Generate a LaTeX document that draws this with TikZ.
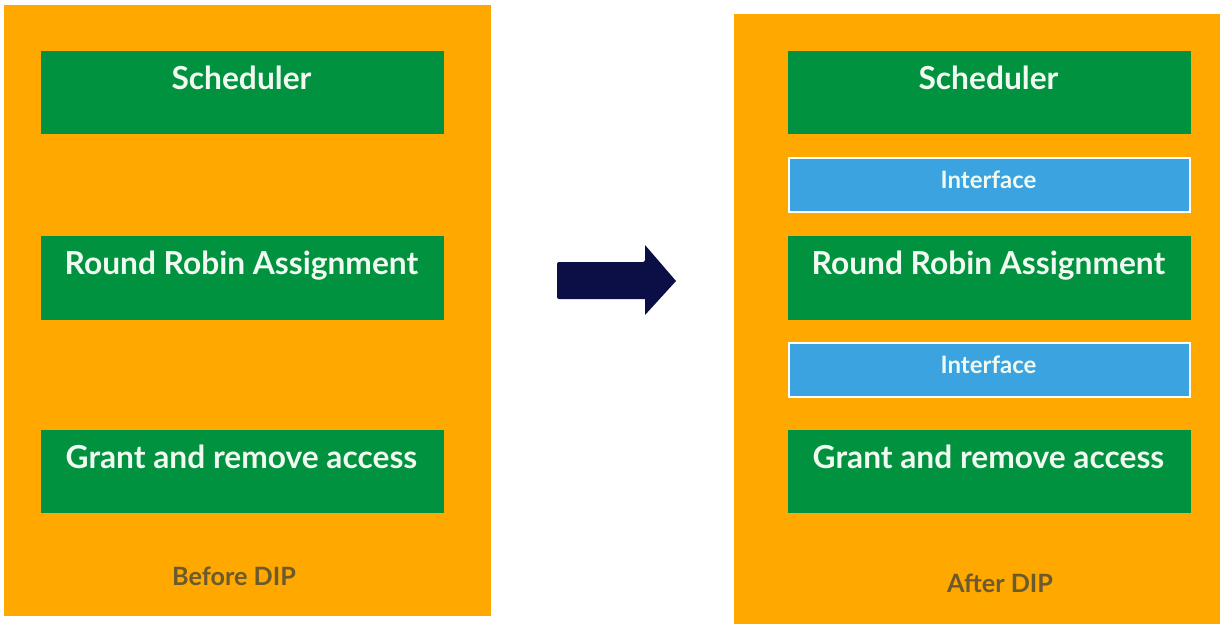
\documentclass[tikz,border=0pt]{standalone}
\usepackage{fontspec}
\setmainfont{Lato}
\definecolor{panelorange}{HTML}{FEA800}
\definecolor{boxgreen}{HTML}{00923F}
\definecolor{ifblue}{HTML}{3AA3E0}
\definecolor{arrownavy}{HTML}{0B0F45}
\definecolor{labelgray}{HTML}{6B5A2E}
\definecolor{textwhite}{HTML}{F0FAF0}
\begin{document}
\begin{tikzpicture}[x=1pt,y=-1pt,
  panel/.style={fill=panelorange,draw=none},
  greenbox/.style={fill=boxgreen,draw=none},
  ifbox/.style={fill=ifblue,draw=white,line width=2.5pt},
  boxtext/.style={anchor=base,text=textwhite,font=\fontsize{31.7}{38}\selectfont\bfseries,inner sep=0pt},
  iftext/.style={anchor=base,text=textwhite,font=\fontsize{24}{29}\selectfont\bfseries,inner sep=0pt},
  captext/.style={anchor=base,text=labelgray,font=\fontsize{25.2}{30}\selectfont\bfseries,inner sep=0pt}]
\useasboundingbox (0,0) rectangle (1225,624);
\fill[white] (0,0) rectangle (1225,624);
% panels
\path[panel] (4,5) rectangle (491,616);
\path[panel] (734,14) rectangle (1220,624);
% left boxes
\path[greenbox] (41,51) rectangle (444,134);
\path[greenbox] (41,236) rectangle (444,320);
\path[greenbox] (41,430) rectangle (444,513);
\node[boxtext] (lsched) at (241.5,89) {Scheduler};
\node[boxtext] (lrr) at (241.5,274) {Round Robin Assignment};
\node[boxtext] (lgrant) at (241.5,468) {Grant and remove access};
\node[captext] (before) at (234,585) {Before DIP};
% right boxes
\path[greenbox] (788,51) rectangle (1191,134);
\path[ifbox] (789,158) rectangle (1190,212);
\path[greenbox] (788,236) rectangle (1191,320);
\path[ifbox] (789,343) rectangle (1190,397);
\path[greenbox] (788,430) rectangle (1191,513);
\node[boxtext] (rsched) at (988.5,89) {Scheduler};
\node[iftext] (if1) at (988.5,188) {Interface};
\node[boxtext] (rrr) at (988.5,274) {Round Robin Assignment};
\node[iftext] (if2) at (988.5,373) {Interface};
\node[boxtext] (rgrant) at (988.5,468) {Grant and remove access};
\node[captext] (after) at (1000,592) {After DIP};
% arrow
\fill[arrownavy,rounded corners=2pt] (557,262) -- (645,262) [sharp corners] -- (645,245) -- (676,281) -- (645,315) -- (645,299) [rounded corners=2pt] -- (557,299) -- cycle;
\end{tikzpicture}
\end{document}
